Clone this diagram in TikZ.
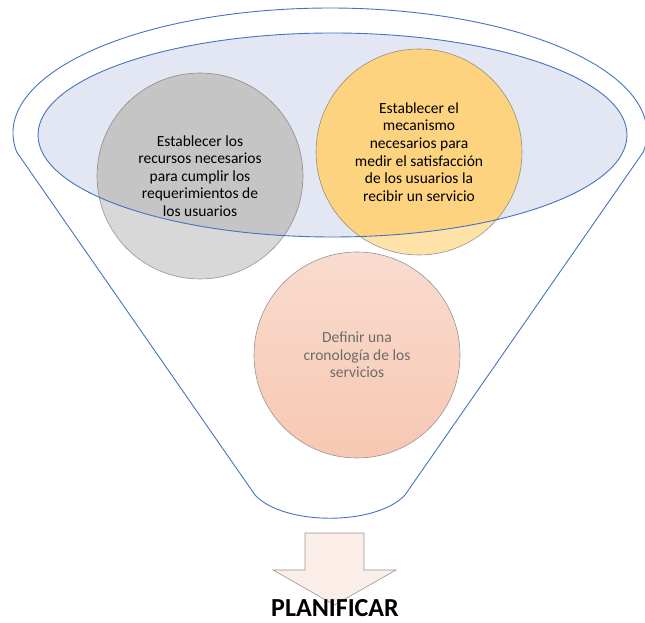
\documentclass[tikz,border=0pt]{standalone}
\usepackage{fontspec}
\setmainfont{Carlito}
\usepackage{xcolor}
\usetikzlibrary{positioning}

\definecolor{funnelblue}{HTML}{4472C4}
\definecolor{bowlfill}{HTML}{E3E7F3}
\definecolor{rimgray}{HTML}{959595}
\definecolor{grayout}{HTML}{D8D8D8}
\definecolor{grayin}{HTML}{E9E9E9}
\definecolor{orangeout}{HTML}{FEE2A8}
\definecolor{orangein}{HTML}{FFEFC1}
\definecolor{pinktop}{HTML}{F9DBCF}
\definecolor{pinkbot}{HTML}{F7C8B2}
\definecolor{pinktext}{HTML}{6B6B6B}
\definecolor{arrowfill}{HTML}{FBEDE7}

\begin{document}
\begin{tikzpicture}[
  x=1pt, y=1pt,
  stage/.style={circle, draw=rimgray, line width=0.6pt, minimum size=206pt,
                inner sep=0pt, align=center,
                font=\fontsize{15.5}{17.6}\selectfont},
  funnel/.style={draw=funnelblue, line width=0.9pt},
  outlbl/.style={font=\fontsize{26}{30}\selectfont\bfseries, inner sep=0pt}
]
  \useasboundingbox (0,0) rectangle (645,623);

  % top of the funnel
  \fill[bowlfill] (332.5,488) ellipse [x radius=294.5, y radius=102];

  \node[stage, fill=grayout]   (recursos)  at (200,447)
    {Establecer los\\recursos necesarios\\para cumplir los\\requerimientos de\\los usuarios};
  \node[stage, fill=orangeout] (mecanismo) at (419,471)
    {Establecer el\\mecanismo\\necesarios para\\medir el satisfacción\\de los usuarios la\\recibir un servicio};
  \node[stage, top color=pinktop, bottom color=pinkbot, text=pinktext] (crono) at (357,268)
    {Definir una\\cronología de los\\servicios};

  % darker part of the circles inside the bowl
  \begin{scope}[blend mode=multiply]
    \clip (332.5,488) ellipse [x radius=294.5, y radius=102];
    \fill[grayin]   (recursos.center)  circle [radius=103];
    \fill[orangein] (mecanismo.center) circle [radius=103];
  \end{scope}

  \draw[funnel] (332.5,488) ellipse [x radius=294.5, y radius=102];
  \draw[funnel] (16.7,471) arc [start angle=188.74, end angle=-8.74,
                               x radius=317, y radius=125]
    -- (405,128) .. controls (376,97) and (284,97) .. (255,128) -- cycle;

  % output arrow
  \draw[draw=rimgray, fill=arrowfill, line width=0.6pt]
    (305,90) -- (364,90) -- (364,53) -- (396,53) -- (334.5,18)
    -- (273,53) -- (305,53) -- cycle;
  \node[outlbl, anchor=base] (planificar) at (335,6) {PLANIFICAR};
\end{tikzpicture}
\end{document}
